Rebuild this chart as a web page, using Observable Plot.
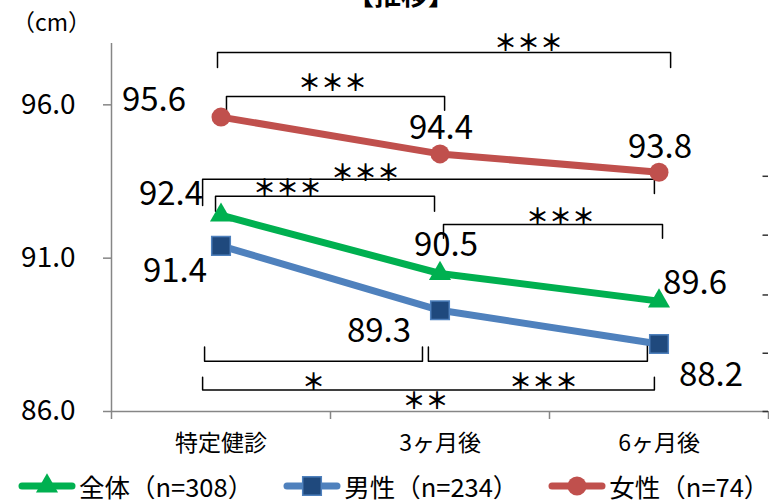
<!DOCTYPE html>
<html><head><meta charset="utf-8">
<script src="https://cdn.jsdelivr.net/npm/d3@7"></script>
<script src="https://cdn.jsdelivr.net/npm/@observablehq/plot@0.6"></script>
<style>
html,body{margin:0;padding:0;background:#fff}
body{width:769px;height:503px;overflow:hidden;position:relative;font-family:"Noto Sans CJK JP",sans-serif;color:#000}
#title{position:absolute;left:0;width:802px;text-align:center;top:-20px;font-size:27px;line-height:28px;font-weight:bold}
#unit{position:absolute;left:12px;top:6px;font-size:23px;line-height:30px}
#chart{position:absolute;left:0;top:0}
#legend{position:absolute;left:18px;top:473px;display:flex;gap:30px;align-items:center;font-size:25.5px;line-height:26px;white-space:nowrap}
.item{display:flex;align-items:center;gap:3px}
</style></head>
<body>
<div id="chart"></div>
<div id="title">【推移】</div>
<div id="unit">（cm）</div>
<div id="legend"></div>
<script>
// ---- data ----
const categories = ["特定健診", "3ヶ月後", "6ヶ月後"];
const seriesNames = ["全体", "男性", "女性"];
const seriesN = [308, 234, 74];
const allValues = [92.4, 90.5, 89.6];
const maleValues = [91.4, 89.3, 88.2];
const femaleValues = [95.6, 94.4, 93.8];
const yTicks = [86, 91, 96];
const xBoundaries = [-0.5, 0.5, 1.5, 2.5];
const rightAxisTicks = [86, 87.9, 89.8, 91.75, 93.67];

// significance brackets (in data units: x = category index, y = cm)
const brackets = [
  {id: "f02", x1: -0.016, x2: 2.053, y: 97.71, t1: 97.22, t2: 97.22, label: "＊＊＊", lx: 1.404, ly: 98.0},
  {id: "f01", x1: 0.025, x2: 1.021, y: 96.27, t1: 95.82, t2: 95.82, label: "＊＊＊", lx: 0.509, ly: 96.70},
  {id: "a02", x1: -0.084, x2: 1.979, y: 93.57, t1: 92.72, t2: 93.11, label: "＊＊＊", lx: 0.66, ly: 93.77},
  {id: "a01", x1: -0.025, x2: 0.975, y: 93.02, t1: 92.53, t2: 92.53, label: "＊＊＊", lx: 0.304, ly: 93.28},
  {id: "a12", x1: 1.016, x2: 2.016, y: 92.10, t1: 91.65, t2: 91.65, label: "＊＊＊", lx: 1.55, ly: 92.33},
  {id: "m01", x1: -0.075, x2: 0.920, y: 87.64, t1: 88.10, t2: 88.10, label: "＊", lx: 0.422, ly: 86.93},
  {id: "m12", x1: 0.947, x2: 1.947, y: 87.64, t1: 88.10, t2: 88.33, label: "＊＊＊", lx: 1.473, ly: 86.93},
  {id: "m02", x1: -0.084, x2: 1.979, y: 86.70, t1: 87.12, t2: 87.12, label: "＊＊", lx: 0.934, ly: 86.31}
];

// styles
const series = [
  {name: seriesNames[0], n: seriesN[0], values: allValues, color: "#00B050", symbol: "triangle", fill: "#00B050", stroke: "none", r: 8.2,
   offsets: [[-50, -21], [6, -28], [36, -18]]},
  {name: seriesNames[1], n: seriesN[1], values: maleValues, color: "#4F81BD", symbol: "square", fill: "#1F497D", stroke: "#4F81BD", r: 10.5,
   offsets: [[-46, 26], [-61, 21], [52, 31]]},
  {name: seriesNames[2], n: seriesN[2], values: femaleValues, color: "#C0504D", symbol: "circle", fill: "#C0504D", stroke: "none", r: 9.5,
   offsets: [[-67, -17], [1, -25], [1, -25]]}
];

const bracketPts = brackets.flatMap(b => [
  {id: b.id, x: b.x1, y: b.t1}, {id: b.id, x: b.x1, y: b.y},
  {id: b.id, x: b.x2, y: b.y}, {id: b.id, x: b.x2, y: b.t2}
]);

const axisGray = "#868686";
const marks = [
  Plot.ruleX([-0.5], {stroke: axisGray, strokeWidth: 1.5}),
  Plot.ruleY([86], {stroke: axisGray, strokeWidth: 1.5}),
  Plot.axisY(yTicks, {tickSize: 8, tickPadding: 28, tickFormat: d => d.toFixed(1), fontSize: 28, stroke: axisGray, strokeWidth: 1.5, fill: "black", label: null}),
  Plot.axisX(xBoundaries, {tickSize: 8, tickFormat: () => "", stroke: axisGray, strokeWidth: 1.5, label: null}),
  Plot.axisX([0, 1, 2], {tickSize: 0, tickPadding: 23, tickFormat: i => categories[i], fontSize: 23, fill: "black", label: null}),
  Plot.ruleY(rightAxisTicks, {x1: 2.475, x2: 2.5, stroke: "#333", strokeWidth: 1.5}),
  Plot.line(bracketPts, {x: "x", y: "y", z: "id", stroke: "black", strokeWidth: 1.5, curve: "linear"}),
  Plot.text(brackets, {x: "lx", y: "ly", text: "label", fontSize: 23, fontWeight: "bold", fill: "black"})
];
for (const s of series) {
  const pts = s.values.map((v, i) => ({i, v}));
  marks.push(Plot.line(pts, {x: "i", y: "v", stroke: s.color, strokeWidth: 7}));
  marks.push(Plot.dot(pts, {x: "i", y: "v", symbol: s.symbol, r: s.r, fill: s.fill, stroke: s.stroke, strokeWidth: 1.5}));
  pts.forEach((p, k) => {
    marks.push(Plot.text([p], {x: "i", y: "v", text: d => d.v.toFixed(1), dx: s.offsets[k][0], dy: s.offsets[k][1], fontSize: 33, fill: "black"}));
  });
}

const chart = Plot.plot({
  width: 769, height: 465,
  marginTop: 43, marginBottom: 54, marginLeft: 111, marginRight: 1,
  x: {domain: [-0.5, 2.5], axis: null},
  y: {domain: [86, 98], axis: null},
  style: {fontFamily: '"Noto Sans CJK JP", sans-serif', background: "white", overflow: "visible"},
  marks
});
document.getElementById("chart").append(chart);

// legend
const leg = d3.select("#legend");
for (const s of series) {
  const item = leg.append("div").attr("class", "item");
  const sw = item.append("svg").attr("width", 58).attr("height", 26);
  sw.append("line").attr("x1", 4).attr("x2", 54).attr("y1", 13).attr("y2", 13)
    .attr("stroke", s.color).attr("stroke-width", 7).attr("stroke-linecap", "round");
  const sym = {triangle: d3.symbolTriangle, square: d3.symbolSquare, circle: d3.symbolCircle}[s.symbol];
  sw.append("path").attr("transform", "translate(29,13)")
    .attr("d", d3.symbol(sym, s.r * s.r * Math.PI)())
    .attr("fill", s.fill).attr("stroke", s.stroke).attr("stroke-width", 1.5);
  item.append("span").text(`${s.name}（n=${s.n}）`);
}
</script>
</body></html>
